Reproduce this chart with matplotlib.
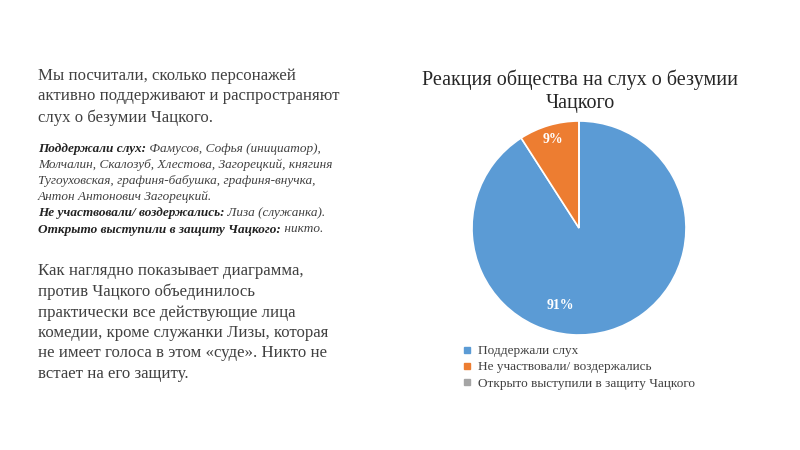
import matplotlib.pyplot as plt
import numpy as np

plt.rcParams['font.family'] = ['Liberation Serif', 'DejaVu Serif']

# Data
categories = ["Поддержали слух", "Не участвовали/ воздержались",
              "Открыто выступили в защиту Чацкого"]
counts = [10, 1, 0]
colors = ["#5B9BD5", "#ED7D31", "#A5A5A5"]
title = "Реакция общества на слух о безумии\nЧацкого"

intro = ("Мы посчитали, сколько персонажей\n"
         "активно поддерживают и распространяют\n"
         "слух о безумии Чацкого.")
details = [
    ("Поддержали слух:", " Фамусов, Софья (инициатор),"),
    ("", "Молчалин, Скалозуб, Хлестова, Загорецкий, княгиня"),
    ("", "Тугоуховская, графиня-бабушка, графиня-внучка,"),
    ("", "Антон Антонович Загорецкий."),
    ("Не участвовали/ воздержались:", " Лиза (служанка)."),
    ("Открыто выступили в защиту Чацкого:", " никто."),
]
outro = ("Как наглядно показывает диаграмма,\n"
         "против Чацкого объединилось\n"
         "практически все действующие лица\n"
         "комедии, кроме служанки Лизы, которая\n"
         "не имеет голоса в этом «суде». Никто не\n"
         "встает на его защиту.")

W, H = 800, 450
fig = plt.figure(figsize=(8, 4.5), dpi=100)
fig.patch.set_facecolor("white")
txt_color = "#404040"

# Left text
fig.text(38 / W, 1 - 68 / H, intro, fontsize=12.1, color=txt_color,
         va="top", ha="left", linespacing=1.37)

renderer = fig.canvas.get_renderer()
y0, dy = 148.5, 16.2
for i, (bold, normal) in enumerate(details):
    y = 1 - (y0 + i * dy) / H
    x = 38 / W
    if bold:
        t = fig.text(x, y, bold, fontsize=9.5, style="italic", weight="bold",
                     color="#222222", va="center", ha="left")
        bb = t.get_window_extent(renderer)
        x = bb.x1 / W
    fig.text(x, y, normal, fontsize=9.5, style="italic", color=txt_color,
             va="center", ha="left")

fig.text(38 / W, 1 - 263 / H, outro, fontsize=12.1, color=txt_color,
         va="top", ha="left", linespacing=1.37)

# Pie chart
cx, cy, r = 579, 228, 107
ax = fig.add_axes([(cx - r) / W, 1 - (cy + r) / H, 2 * r / W, 2 * r / H])
wedges, texts, autotexts = ax.pie(
    counts, colors=colors, startangle=90, counterclock=False,
    autopct=lambda p: f"{p:.0f}%" if p > 0 else "", pctdistance=0.86,
    wedgeprops=dict(edgecolor="white", linewidth=1.2),
    textprops=dict(color="white", fontsize=10, weight="bold"))
ax.set_xlim(-1, 1)
ax.set_ylim(-1, 1)
ax.set_aspect("equal")
# 91% label sits lower-left of the slice middle in the reference
autotexts[0].set_position((-0.17, -0.72))

fig.text(580 / W, 1 - 91.5 / H, title, fontsize=14.5, color="#262626",
         ha="center", va="center", linespacing=1.32)

# Legend
handles = [plt.Line2D([0], [0], marker="s", color="none", markerfacecolor=c,
                      markeredgecolor=c, markersize=5) for c in colors]
fig.legend(handles, categories, loc="upper left",
           bbox_to_anchor=(462 / W, 1 - 345 / H), frameon=False,
           fontsize=9.5, labelcolor="#404040", handlelength=0.8,
           handletextpad=0.4, labelspacing=0.3, borderaxespad=0,
           borderpad=0)

fig.savefig("out.png", dpi=100)
